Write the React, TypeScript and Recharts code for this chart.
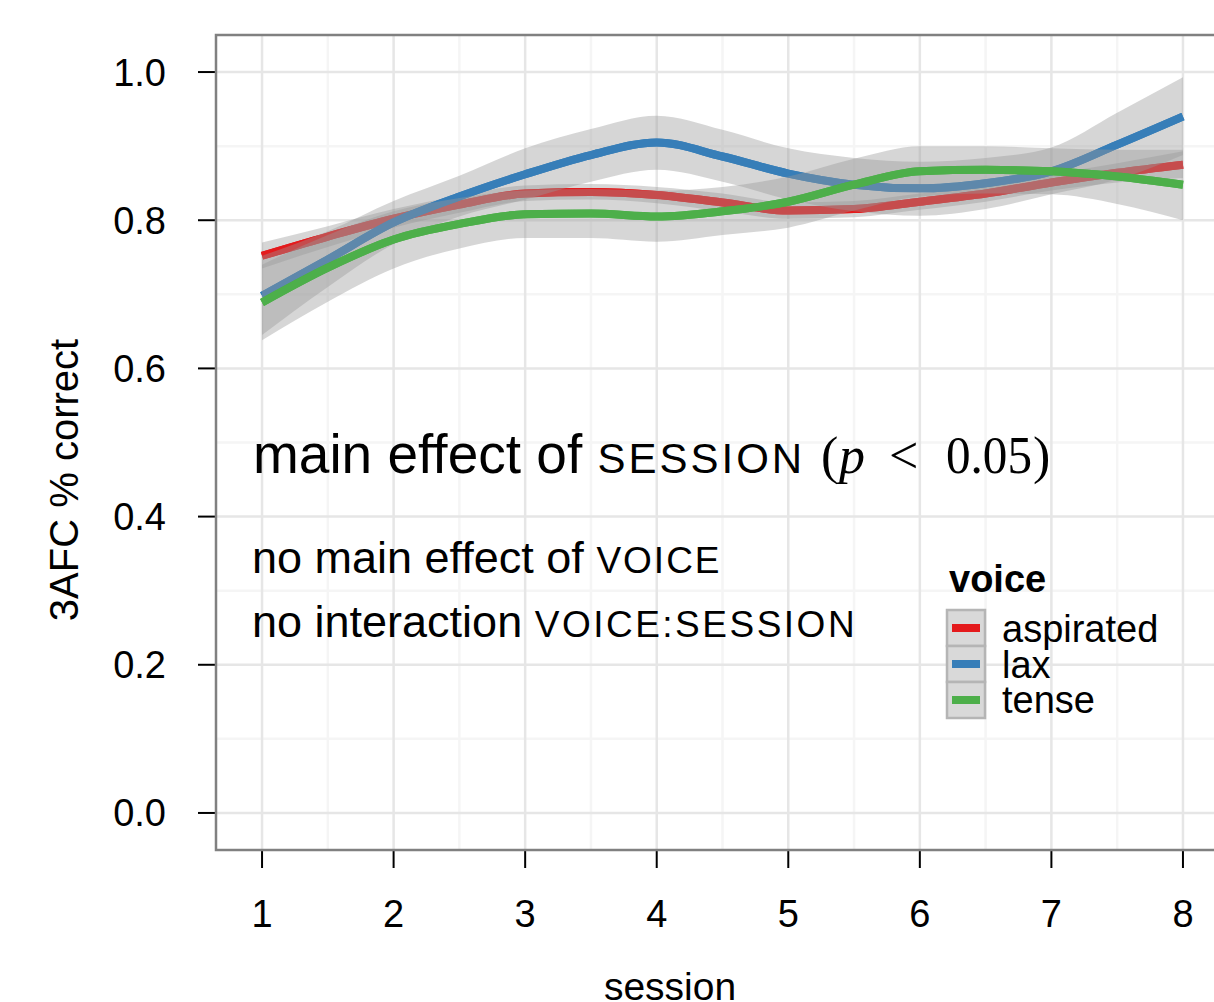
import React from "react";
import {
  Area,
  CartesianGrid,
  ComposedChart,
  Legend,
  XAxis,
  YAxis,
} from "recharts";

// loess fits at every half session
const sessions = [1, 1.5, 2, 2.5, 3, 3.5, 4, 4.5, 5, 5.5, 6, 6.5, 7, 7.5, 8];

const aspiratedFit = [0.752, 0.778, 0.802, 0.821, 0.836, 0.838, 0.834, 0.824, 0.813, 0.815, 0.825, 0.836, 0.851, 0.864, 0.875];
const aspiratedLo = [0.735, 0.764, 0.79, 0.81, 0.826, 0.828, 0.823, 0.812, 0.802, 0.804, 0.814, 0.825, 0.84, 0.851, 0.857];
const aspiratedHi = [0.77, 0.792, 0.815, 0.833, 0.847, 0.849, 0.845, 0.836, 0.824, 0.826, 0.836, 0.847, 0.862, 0.877, 0.893];

const laxFit = [0.698, 0.747, 0.797, 0.832, 0.862, 0.888, 0.905, 0.886, 0.863, 0.848, 0.843, 0.85, 0.866, 0.902, 0.94];
const laxLo = [0.645, 0.71, 0.768, 0.805, 0.828, 0.852, 0.868, 0.852, 0.828, 0.812, 0.806, 0.815, 0.835, 0.855, 0.888];
const laxHi = [0.752, 0.785, 0.826, 0.86, 0.897, 0.923, 0.941, 0.922, 0.897, 0.884, 0.879, 0.884, 0.898, 0.945, 0.993];

const tenseFit = [0.689, 0.736, 0.774, 0.795, 0.808, 0.809, 0.805, 0.812, 0.825, 0.848, 0.866, 0.868, 0.866, 0.859, 0.848];
const tenseLo = [0.638, 0.69, 0.735, 0.762, 0.776, 0.776, 0.771, 0.78, 0.79, 0.813, 0.832, 0.836, 0.835, 0.822, 0.8];
const tenseHi = [0.74, 0.78, 0.812, 0.83, 0.84, 0.842, 0.84, 0.845, 0.859, 0.883, 0.9, 0.9, 0.897, 0.895, 0.895];

const xTicks = [1, 2, 3, 4, 5, 6, 7, 8];
const xMinor = [1.5, 2.5, 3.5, 4.5, 5.5, 6.5, 7.5];
const yTicks = [0, 0.2, 0.4, 0.6, 0.8, 1.0];
const yMinor = [0.1, 0.3, 0.5, 0.7, 0.9];

const voices = [
  { key: "aspirated", color: "#E41A1C" },
  { key: "lax", color: "#377EB8" },
  { key: "tense", color: "#4DAF4A" },
];

// the fit is kept as a zero-width range so each voice's line sits under the
// next voice's ribbon, as in the ggplot original
const rows = sessions.map((s, i) => ({
  session: s,
  aspiratedFit: [aspiratedFit[i], aspiratedFit[i]],
  aspiratedBand: [aspiratedLo[i], aspiratedHi[i]],
  laxFit: [laxFit[i], laxFit[i]],
  laxBand: [laxLo[i], laxHi[i]],
  tenseFit: [tenseFit[i], tenseFit[i]],
  tenseBand: [tenseLo[i], tenseHi[i]],
}));

const FONT = "'Liberation Sans', Arial, Helvetica, sans-serif";
const SERIF = "'Liberation Serif', 'Times New Roman', serif";

function VoiceLegend() {
  return (
    <svg width={260} height={170} style={{ display: "block" }}>
      <text x={9} y={37} fontFamily={FONT} fontWeight="bold" fontSize={38} fill="#000">
        voice
      </text>
      {voices.map((v, i) => (
        <g key={v.key}>
          <rect x={7} y={55 + i * 36} width={38} height={36} fill="#d9d9d9" stroke="#b5b5b5" strokeWidth={2.5} />
          <line x1={12} x2={40} y1={73 + i * 36} y2={73 + i * 36} stroke={v.color} strokeWidth={8} />
          <text x={62} y={87 + i * 35.5} fontFamily={FONT} fontSize={38} fill="#000">
            {v.key}
          </text>
        </g>
      ))}
    </svg>
  );
}

export default function App() {
  return (
    <div
      style={{
        position: "absolute",
        left: 0,
        top: 0,
        width: 1214,
        height: 1002,
        overflow: "hidden",
        background: "#fff",
        fontFamily: FONT,
      }}
    >
      <ComposedChart width={1240} height={1002} data={rows} margin={{ top: 35, right: 11, left: 0, bottom: 0 }}>
        <CartesianGrid stroke="#f5f5f5" strokeWidth={2.5} verticalValues={xMinor} horizontalValues={yMinor} />
        <CartesianGrid stroke="#e6e6e6" strokeWidth={2.5} verticalValues={xTicks} horizontalValues={yTicks} />
        <XAxis
          type="number"
          dataKey="session"
          domain={[0.65, 8.35]}
          ticks={xTicks}
          allowDataOverflow
          height={152}
          axisLine={false}
          tickLine={{ stroke: "#000", strokeWidth: 2 }}
          tickSize={18}
          tickMargin={32}
          tick={{ fill: "#000", fontSize: 38, fontFamily: FONT }}
        />
        <YAxis
          type="number"
          domain={[-0.05, 1.05]}
          ticks={yTicks}
          allowDataOverflow
          width={216}
          axisLine={false}
          tickLine={{ stroke: "#000", strokeWidth: 2 }}
          tickSize={18}
          tickMargin={32}
          tickFormatter={(v: number) => v.toFixed(1)}
          tick={{ fill: "#000", fontSize: 38, fontFamily: FONT }}
        />
        {voices.map((v) => [
          <Area
            key={`${v.key}-band`}
            type="monotone"
            dataKey={`${v.key}Band`}
            stroke="none"
            fill="#999999"
            fillOpacity={0.4}
            activeDot={false}
            isAnimationActive={false}
          />,
          <Area
            key={`${v.key}-fit`}
            type="monotone"
            dataKey={`${v.key}Fit`}
            stroke={v.color}
            strokeWidth={8}
            fill="none"
            dot={false}
            activeDot={false}
            isAnimationActive={false}
          />,
        ])}
        <Legend
          layout="vertical"
          align="center"
          verticalAlign="middle"
          wrapperStyle={{ position: "absolute", left: 940, top: 555, width: 260 }}
          content={() => <VoiceLegend />}
        />
      </ComposedChart>
      <svg
        width={1214}
        height={1002}
        style={{ position: "absolute", left: 0, top: 0, pointerEvents: "none" }}
      >
        <rect x={216} y={35} width={1013} height={815} fill="none" stroke="#808080" strokeWidth={2.5} />
        <text transform="translate(78,480) rotate(-90)" textAnchor="middle" fontFamily={FONT} fontSize={40} fill="#000">
          3AFC % correct
        </text>
        <text x={670} y={1000} textAnchor="middle" fontFamily={FONT} fontSize={39} fill="#000">
          session
        </text>
        <text x={253} y={473} fontFamily={FONT} fontSize={55} fill="#000">
          main effect of{" "}
          <tspan fontSize={42} letterSpacing={3}>
            SESSION
          </tspan>
        </text>
        <text y={473} fontFamily={SERIF} fontSize={52} fill="#000">
          <tspan x={821}>(</tspan>
          <tspan x={839} fontStyle="italic">p</tspan>
          <tspan x={889}>&lt;</tspan>
          <tspan x={946} textLength={86} lengthAdjust="spacingAndGlyphs">0.05</tspan>
          <tspan x={1033}>)</tspan>
        </text>
        <text x={252} y={573} fontFamily={FONT} fontSize={45} fill="#000">
          no main effect of{" "}
          <tspan fontSize={37} letterSpacing={2}>
            VOICE
          </tspan>
        </text>
        <text x={252} y={637} fontFamily={FONT} fontSize={45} fill="#000">
          no interaction{" "}
          <tspan fontSize={37} letterSpacing={2.5}>
            VOICE:SESSION
          </tspan>
        </text>
      </svg>
    </div>
  );
}
